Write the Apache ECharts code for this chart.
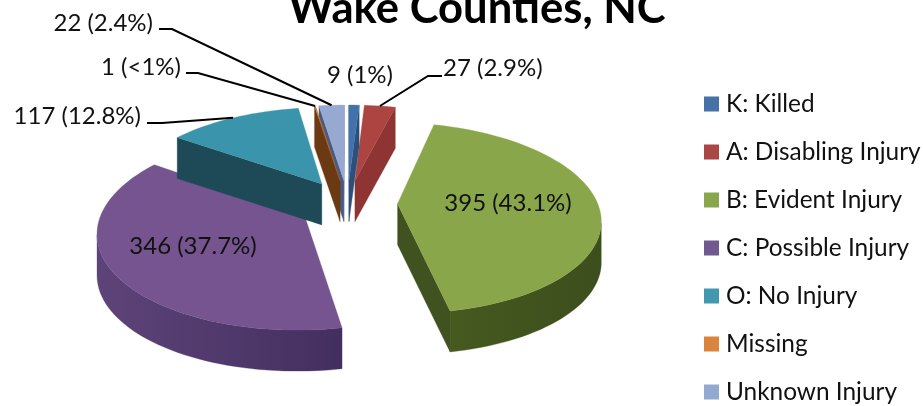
<!DOCTYPE html>
<html>
<head>
<meta charset="utf-8">
<style>html,body{margin:0;padding:0;background:#fff}#chart{width:923px;height:406px}</style>
<script src="https://cdn.jsdelivr.net/npm/echarts@6/dist/echarts.min.js"></script>
</head>
<body>
<div id="chart"></div>
<script>
// Crash severity counts
const categories = ['K: Killed', 'A: Disabling Injury', 'B: Evident Injury', 'C: Possible Injury', 'O: No Injury', 'Missing', 'Unknown Injury'];
const counts = [9, 27, 395, 346, 117, 1, 22];
const valueLabels = ['9 (1%)', '27 (2.9%)', '395 (43.1%)', '346 (37.7%)', '117 (12.8%)', '1 (<1%)', '22 (2.4%)'];

// Slice colours: legend swatch, top face, cut wall, rim wall (left and right stops)
const swatchColors = ['#4573a7', '#aa4644', '#89a54e', '#71588f', '#4298af', '#db843d', '#93a9cf'];
const topColors = ['#4272ab', '#ac4442', '#8aa64a', '#75548f', '#3a94ab', '#c8752e', '#96a9d0'];
const cutColors = ['#2d4f78', '#8e3432', '#3f5220', '#4a3564', '#1e4a58', '#6b3a12', '#4a5a80'];
const rimColors = [['#2d4f78', '#2d4f78'], ['#8e3432', '#8e3432'], ['#46591f', '#3c4e1c'], ['#5e4379', '#432f5f'], ['#1e4a58', '#1e4a58'], ['#6b3a12', '#6b3a12'], ['#4a5a80', '#4a5a80']];

// Painting order: later slices overlap earlier ones
const drawOrder = [3, 2, 1, 0, 4, 6, 5];

// Tilted-disc projection
const view = { cx: 347.5, cy: 203, rx: 200, ry: 93, persp: 0.149, explode: 0.25, depth: 41, startDeg: 0 };

// Label anchors and leader-line elbows, by category index
const labelLayout = {
  0: { x: 360, y: 75, align: 'center' },
  1: { x: 443, y: 68, align: 'left', elbow: [[442, 76], [428, 76]] },
  2: { x: 508, y: 203, align: 'center' },
  3: { x: 193, y: 246, align: 'center' },
  4: { x: 141, y: 116, align: 'right', elbow: [[147, 123], [162, 123]] },
  5: { x: 181, y: 67, align: 'right', elbow: [[186, 73], [198, 73]] },
  6: { x: 153, y: 23, align: 'right', elbow: [[159, 29], [172, 29]] }
};

const total = counts.reduce((a, b) => a + b, 0);
const rad = d => d * Math.PI / 180;

function project(px, pv) {
  const w = 1 / (1 - view.persp * pv);
  return [view.cx + px * w * view.rx, view.cy + pv * w * view.ry];
}

function sliceAngles(i) {
  const before = counts.slice(0, i).reduce((a, b) => a + b, 0);
  const a0 = view.startDeg + before / total * 360;
  return [a0, a0 + counts[i] / total * 360];
}

function planePoint(i, deg, radius) {
  const [a0, a1] = sliceAngles(i);
  const mid = rad((a0 + a1) / 2);
  const ox = Math.sin(mid) * view.explode;
  const ov = -Math.cos(mid) * view.explode;
  return project(ox + Math.sin(rad(deg)) * radius, ov - Math.cos(rad(deg)) * radius);
}

const down = p => [p[0], p[1] + view.depth];
const wall = (a, b) => [a, b, down(b), down(a)];

function renderSlice(i) {
  return function () {
    const [a0, a1] = sliceAngles(i);
    const steps = Math.max(2, Math.ceil((a1 - a0) / 2));
    const apex = planePoint(i, a0, 0);
    const rim = [];
    for (let s = 0; s <= steps; s++) rim.push(planePoint(i, a0 + (a1 - a0) * s / steps, 1));
    const children = [];
    const addPoly = (points, fill) => children.push({ type: 'polygon', shape: { points }, style: { fill, stroke: fill, lineWidth: 0.3 } });

    // Straight cut faces that look toward the viewer
    if (rim[0][0] < apex[0]) addPoly(wall(apex, rim[0]), cutColors[i]);
    if (rim[steps][0] > apex[0]) addPoly(wall(rim[steps], apex), cutColors[i]);

    // Outer wall along the part of the rim that faces the viewer
    const front = [];
    for (let s = 0; s < steps; s++) {
      if (rim[s + 1][0] < rim[s][0]) {
        if (!front.length) front.push(rim[s]);
        front.push(rim[s + 1]);
      }
    }
    if (front.length > 1) {
      const fill = {
        type: 'linear', x: 0, y: 0, x2: 1, y2: 0,
        colorStops: [{ offset: 0, color: rimColors[i][0] }, { offset: 1, color: rimColors[i][1] }]
      };
      addPoly(front.concat(front.slice().reverse().map(down)), fill);
    }

    // Top face
    addPoly([apex].concat(rim), topColors[i]);
    return { type: 'group', children };
  };
}

// Leader lines and value labels sit above every slice
function renderLabels() {
  const children = [];
  counts.forEach((c, i) => {
    const lay = labelLayout[i];
    if (lay.elbow) {
      const [a0, a1] = sliceAngles(i);
      const end = planePoint(i, (a0 + a1) / 2, 1);
      children.push({
        type: 'polyline',
        shape: { points: lay.elbow.concat([end]) },
        style: { fill: 'none', stroke: '#000', lineWidth: 2 }
      });
    }
    children.push({
      type: 'text',
      style: { x: lay.x, y: lay.y, text: valueLabels[i], align: lay.align, verticalAlign: 'middle', font: '24px Lato, sans-serif', fill: '#111' }
    });
  });
  return { type: 'group', children };
}

const series = drawOrder.map(i => ({
  type: 'custom',
  name: categories[i],
  coordinateSystem: 'none',
  itemStyle: { color: swatchColors[i] },
  data: [[counts[i]]],
  silent: true,
  animation: false,
  renderItem: renderSlice(i)
}));
series.push({
  type: 'custom',
  name: 'value labels',
  coordinateSystem: 'none',
  data: [[0]],
  silent: true,
  animation: false,
  z: 5,
  renderItem: renderLabels
});

const chart = echarts.init(document.getElementById('chart'), null, { renderer: 'canvas' });
chart.setOption({
  backgroundColor: '#fff',
  animation: false,
  title: {
    text: 'Wake Counties, NC',
    left: 472,
    top: -18,
    textAlign: 'center',
    textStyle: { fontFamily: 'Lato, sans-serif', fontSize: 43.6, fontWeight: 'bold', color: '#000' }
  },
  legend: {
    data: categories,
    orient: 'vertical',
    left: 704,
    top: 91,
    padding: 0,
    itemWidth: 15,
    itemHeight: 15,
    itemGap: 22,
    icon: 'rect',
    selectedMode: false,
    textStyle: { fontFamily: 'Lato, sans-serif', fontSize: 24.4, color: '#111', padding: [0, 0, 0, 2], lineHeight: 26 }
  },
  series
});
</script>
</body>
</html>
